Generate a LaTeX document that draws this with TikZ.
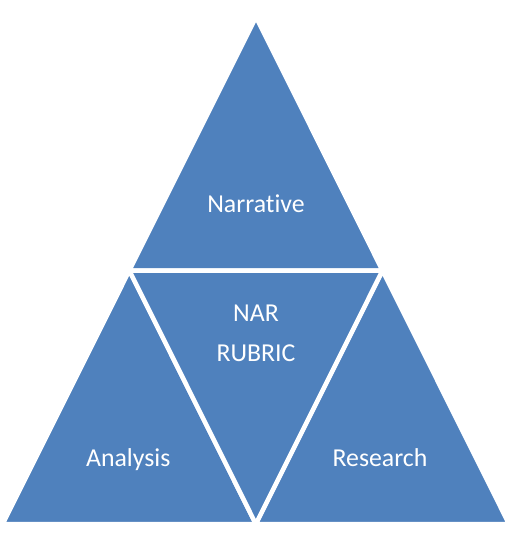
\documentclass[tikz,border=0pt]{standalone}
\usepackage{fontspec}
\setmainfont{Carlito}[Ligatures=NoCommon]
\usepackage{tikz}
\usetikzlibrary{calc}
\definecolor{rubricBlue}{HTML}{4F81BD}

\begin{document}
\begin{tikzpicture}[x=1pt, y=-1pt,
  part/.style={fill=rubricBlue, draw=white, line width=4.5pt, line join=miter},
  lbl/.style={text=white, font=\fontsize{25.8}{30}\selectfont, anchor=base, inner sep=0pt}]
  \useasboundingbox (0,0) rectangle (511,542);
  % corners and midpoints
  \coordinate (top) at (256,17);
  \coordinate (bl) at (2.7,524);
  \coordinate (br) at (509,524);
  \coordinate (ml) at ($(top)!0.5!(bl)$);
  \coordinate (mr) at ($(top)!0.5!(br)$);
  \coordinate (mb) at ($(bl)!0.5!(br)$);

  % four parts
  \filldraw[part] (top) -- (ml) -- (mr) -- cycle;
  \filldraw[part] (ml) -- (bl) -- (mb) -- cycle;
  \filldraw[part] (mr) -- (mb) -- (br) -- cycle;
  \filldraw[part] (ml) -- (mr) -- (mb) -- cycle;

  % labels
  \node[lbl] (narr) at (256,212.3) {Narrative};
  \node[lbl] (nar) at (256,321) {NAR};
  \node[lbl] (rubric) at (256,361.7) {RUBRIC};
  \node[lbl] (anal) at (128.3,466.7) {Analysis};
  \node[lbl] (res) at (380,466.7) {Research};
\end{tikzpicture}
\end{document}
